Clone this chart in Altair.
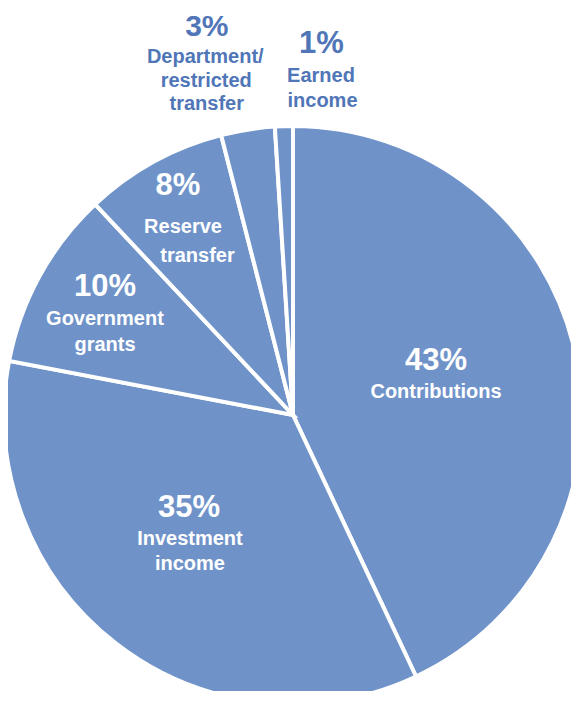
import math
import altair as alt
import pandas as pd

# ---- data ----
categories = ["Contributions", "Investment income", "Government grants",
              "Reserve transfer", "Department/restricted transfer", "Earned income"]
values = [43, 35, 10, 8, 3, 1]
pct_labels = ["43%", "35%", "10%", "8%", "3%", "1%"]
name_lines = [["Contributions"], ["Investment", "income"], ["Government", "grants"],
              ["Reserve", "transfer"], ["Department/", "restricted", "transfer"],
              ["Earned", "income"]]

# ---- style / layout (not data) ----
FILL = "#6F93C9"
INSIDE = "white"
OUTSIDE = "#5076B8"
FONT = "Liberation Sans, Arial, sans-serif"
CX, CY = 285, 407
R_OUT = 289
label_radius = [145, 160, 210, 220, 350, 350]
label_color = [INSIDE, INSIDE, INSIDE, INSIDE, OUTSIDE, OUTSIDE]
pct_size = [31, 31, 31, 31, 30, 31]
pct_offset = [(1.5, -13.4), (-6, -24.4), (-4, -18), (-9, -27.3), (-31.4, -33.4), (39.5, -12.2)]
line_offsets = [
    [(1.5, 14.6)],
    [(-5, 3.6), (-5, 28.6)],
    [(-4, 11), (-4, 37)],
    [(-4, 10.7), (10.5, 39.7)],
    [(-33, -6.2), (-32, 17.3), (-31.5, 40.8)],
    [(39, 16.8), (40.5, 41.8)],
]

df = pd.DataFrame({"category": categories, "value": values, "order": list(range(len(values)))})

theta_scale = alt.Scale(domain=[0, 100], range=[0, 2 * math.pi])

base = (
    alt.Chart(df)
    .transform_window(cum="sum(value)", sort=[alt.SortField("order")], frame=[None, 0])
    .transform_calculate(start="datum.cum - datum.value", mid="datum.cum - datum.value / 2")
)

arcs = base.mark_arc(outerRadius=R_OUT, stroke="white", strokeWidth=4, fill=FILL).encode(
    theta=alt.Theta("start:Q", scale=theta_scale),
    theta2="cum:Q",
    x=alt.value(CX),
    y=alt.value(CY),
)

layers = [arcs]


def text_layer(cat, txt, size, r, dx, dy, color):
    return (
        base.transform_filter(alt.datum.category == cat)
        .mark_text(radius=r, dx=dx, dy=dy, fontSize=size, fontWeight="bold", font=FONT,
                   color=color, align="center", baseline="alphabetic")
        .encode(theta=alt.Theta("mid:Q", scale=theta_scale),
                x=alt.value(CX), y=alt.value(CY), text=alt.value(txt))
    )


for i, cat in enumerate(categories):
    dx, dy = pct_offset[i]
    layers.append(text_layer(cat, pct_labels[i], pct_size[i], label_radius[i], dx, dy, label_color[i]))
    for line, (ldx, ldy) in zip(name_lines[i], line_offsets[i]):
        layers.append(text_layer(cat, line, 20, label_radius[i], ldx, ldy, label_color[i]))

chart = (
    alt.layer(*layers)
    .properties(width=563, height=683, autosize="none", padding=0)
    .configure_view(stroke=None)
)

chart.save("out.html", embed_options={"renderer": "svg", "actions": False})
